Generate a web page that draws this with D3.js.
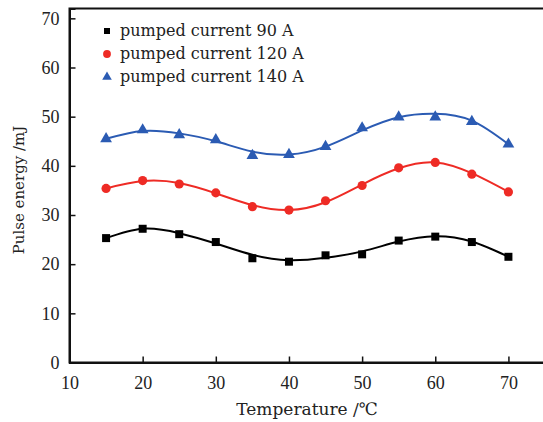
<!DOCTYPE html>
<html><head><meta charset="utf-8">
<script src="https://cdn.jsdelivr.net/npm/d3@7"></script>
<style>body{margin:0;background:#fff}svg{display:block}text{font-family:"DejaVu Serif",serif;fill:#222}</style>
</head><body><svg id="c" width="543" height="422"></svg>
<script>
const temps = [15,20,25,30,35,40,45,50,55,60,65,70];
const e90  = [25.3,27.2,26.1,24.5,21.2,20.5,21.8,22.0,24.8,25.6,24.5,21.5];
const e120 = [35.4,37.0,36.3,34.5,31.7,31.0,32.9,36.0,39.6,40.7,38.3,34.7];
const e140 = [45.5,47.3,46.3,45.3,42.1,42.3,43.9,47.7,49.9,49.9,49.0,44.4];
const fit90  = [25.3,27.2,26.3,24.2,21.9,20.8,21.3,22.6,24.6,25.7,24.6,21.5];
const fit120 = [35.4,36.9,36.5,34.4,32.0,31.0,32.6,36.2,39.5,40.7,38.5,34.7];
const fit140 = [45.5,47.1,46.6,45.0,42.9,42.3,43.9,47.2,49.9,50.6,49.2,44.4];
const xTicks = [10,20,30,40,50,60,70];
const yTicks = [0,10,20,30,40,50,60,70];
const seriesNames = ["pumped current 90 A","pumped current 120 A","pumped current 140 A"];

const series = [
  {name:seriesNames[0], vals:e90, fit:fit90, color:"#000000", sym:d3.symbolSquare, size:64, lsize:36},
  {name:seriesNames[1], vals:e120, fit:fit120, color:"#ee2b25", sym:d3.symbolCircle, size:66, lsize:48},
  {name:seriesNames[2], vals:e140, fit:fit140, color:"#2b5bb3", sym:d3.symbolTriangle, size:60, lsize:40}
];

const svg = d3.select("#c");
const x = d3.scaleLinear().domain([10,75]).range([69.5,545]);
const y = d3.scaleLinear().domain([0,72]).range([362.5,8.5]);

// frame
svg.append("rect").attr("x",x(10)).attr("y",y(72)).attr("width",x(75)-x(10)).attr("height",y(0)-y(72))
  .attr("fill","none").attr("stroke","#111").attr("stroke-width",2);

const tickFont = '"Liberation Serif","DejaVu Serif",serif';
const xa = svg.append("g").attr("transform",`translate(0,${y(0)})`)
  .call(d3.axisBottom(x).tickValues(xTicks).tickSize(-6).tickPadding(10).tickFormat(d3.format("d")));
const ya = svg.append("g").attr("transform",`translate(${x(10)},0)`)
  .call(d3.axisLeft(y).tickValues(yTicks).tickSize(-6).tickPadding(10).tickFormat(d3.format("d")));
[xa,ya].forEach(g=>{
  g.select(".domain").attr("stroke","#111").attr("stroke-width",2);
  g.selectAll(".tick line").attr("stroke","#111").attr("stroke-width",1.5);
  g.selectAll(".tick text").attr("font-size",18).attr("fill","#222").style("font-family",tickFont);
});
xa.selectAll(".tick text").attr("dy","0.9em");

const line = d3.line().x((d,i)=>x(temps[i])).y(d=>y(d)).curve(d3.curveNatural);
series.forEach(s=>{
  svg.append("path").attr("d",line(s.fit)).attr("fill","none").attr("stroke",s.color).attr("stroke-width",2);
  svg.append("g").selectAll("path").data(s.vals).join("path")
    .attr("transform",(d,i)=>`translate(${x(temps[i])},${y(d)})`)
    .attr("d",d3.symbol().type(s.sym).size(s.size)).attr("fill",s.color);
});

// legend
const leg = svg.append("g");
series.forEach((s,i)=>{
  const ly = 31 + i*23;
  leg.append("path").attr("transform",`translate(107,${ly})`).attr("d",d3.symbol().type(s.sym).size(s.lsize)).attr("fill",s.color);
  leg.append("text").attr("x",120).attr("y",ly).attr("dy","0.33em").attr("font-size",16).text(s.name);
});

svg.append("text").attr("x",307).attr("y",415).attr("text-anchor","middle").attr("font-size",17).text("Temperature /℃");
svg.append("text").attr("transform","translate(24,190) rotate(-90)").attr("text-anchor","middle").attr("font-size",15).text("Pulse energy /mJ");
</script></body></html>
